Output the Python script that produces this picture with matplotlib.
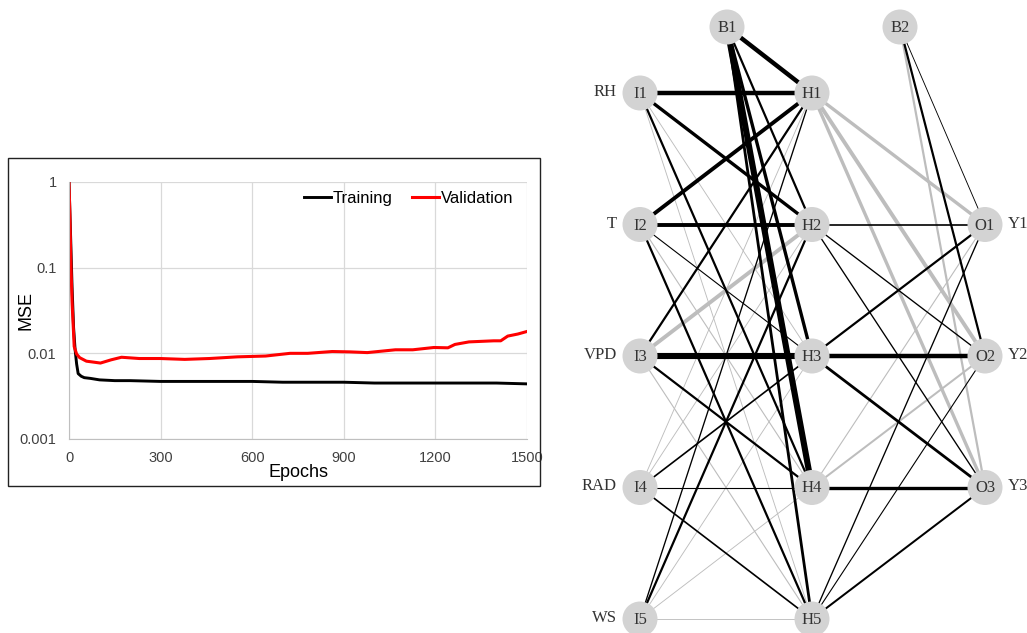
import matplotlib
matplotlib.use("Agg")
from matplotlib import pyplot as plt
from matplotlib.patches import Circle, Rectangle

# ---- training history ----
train_epochs = [0, 5, 10, 15, 20, 25, 30, 40, 50, 70, 100, 150, 200, 300, 400,
                500, 600, 700, 800, 900, 1000, 1100, 1200, 1300, 1400, 1500]
train_mse = [1.0, 0.25, 0.06, 0.02, 0.011, 0.0075, 0.0058, 0.0054, 0.0052, 0.0051,
             0.0049, 0.0048, 0.0048, 0.0047, 0.0047, 0.0047, 0.0047, 0.0046, 0.0046,
             0.0046, 0.0045, 0.0045, 0.0045, 0.0045, 0.0045, 0.0044]

val_epochs = [0, 3, 6, 10, 17, 25, 35, 57, 80, 103, 138, 172, 230, 299, 379, 460,
              552, 644, 724, 782, 862, 920, 977, 1069, 1126, 1195, 1241, 1264,
              1310, 1391, 1414, 1437, 1470, 1500]
val_mse = [1.0, 0.4, 0.12, 0.04, 0.012, 0.0098, 0.0089, 0.0081, 0.0079, 0.0077,
           0.0084, 0.009, 0.0087, 0.0087, 0.0085, 0.0087, 0.0091, 0.0093, 0.0100,
           0.0100, 0.0105, 0.0104, 0.0102, 0.0110, 0.0110, 0.0117, 0.0116, 0.0127,
           0.0136, 0.0140, 0.0140, 0.0159, 0.0168, 0.0180]

# ---- network (sign = colour, magnitude = line width) ----
input_names = ["I1", "I2", "I3", "I4", "I5"]
input_labels = ["RH", "T", "VPD", "RAD", "WS"]
hidden_names = ["H1", "H2", "H3", "H4", "H5"]
output_names = ["O1", "O2", "O3"]
output_labels = ["Y1", "Y2", "Y3"]

# rows: inputs I1..I5, columns: hidden H1..H5
w_input_hidden = [
    [4.0, 3.0, -0.8, 2.0, -0.8],
    [3.5, 3.5, 1.0, -1.0, 2.0],
    [2.0, -3.5, 5.5, 2.0, -1.0],
    [-0.8, -0.8, 1.5, 1.0, 1.5],
    [1.2, 2.0, -0.8, -0.8, -0.8],
]
w_bias1_hidden = [4.0, 2.0, 3.0, 5.5, 2.5]
# rows: hidden H1..H5, columns: outputs O1..O3
w_hidden_output = [
    [-3.0, -3.5, -3.0],
    [1.5, 1.2, 1.2],
    [2.0, 4.0, 2.5],
    [-1.0, -1.8, 3.0],
    [1.2, 1.0, 1.8],
]
w_bias2_output = [0.8, 2.0, -2.0]

fig = plt.figure(figsize=(10.27, 6.33), dpi=100)

# ---------------- left: MSE vs epochs ----------------
ax = fig.add_axes([69 / 1027, 1 - 439 / 633, 458 / 1027, 257 / 633])
ax.plot(train_epochs, train_mse, color="black", lw=2.1, label="Training")
ax.plot(val_epochs, val_mse, color="#ff0000", lw=2.2, label="Validation")
ax.set_yscale("log")
ax.set_xlim(0, 1500)
ax.set_ylim(0.001, 1)
ax.set_xticks([0, 300, 600, 900, 1200, 1500])
ax.set_yticks([0.001, 0.01, 0.1, 1])
ax.set_yticklabels(["0.001", "0.01", "0.1", "1"])
ax.minorticks_off()
ax.tick_params(length=0, labelsize=10.5, labelcolor="#404040")
ax.tick_params(axis="y", pad=9)
ax.tick_params(axis="x", pad=9)
for lab in ax.get_xticklabels() + ax.get_yticklabels():
    lab.set_family("Liberation Sans")
ax.grid(True, color="#d9d9d9", lw=0.9)
for s in ["top", "right"]:
    ax.spines[s].set_visible(False)
for s in ["left", "bottom"]:
    ax.spines[s].set_color("#bfbfbf")
ax.set_xlabel("Epochs", fontsize=13, family="Liberation Sans", va="center")
ax.set_ylabel("MSE", fontsize=13, family="Liberation Sans", va="center")
ax.xaxis.set_label_coords(0.5, -0.132)
ax.yaxis.set_label_coords(-0.094, 0.5)
ax.legend(loc="upper right", ncol=2, frameon=False, handlelength=1.6,
          handletextpad=0.1, columnspacing=1.2, borderaxespad=0.15,
          bbox_to_anchor=(0.99, 1.0),
          prop={"family": "Liberation Sans", "size": 12})
fig.add_artist(Rectangle((8 / 1027, 1 - 486 / 633), 532 / 1027, 328 / 633,
                         transform=fig.transFigure, fill=False,
                         edgecolor="#222222", lw=1.0))

# ---------------- right: network diagram ----------------
nx = fig.add_axes([560 / 1027, 0, 467 / 1027, 1])
nx.set_xlim(560, 1027)
nx.set_ylim(633, 0)
nx.axis("off")

x_in, x_b1, x_hid, x_b2, x_out = 640, 727, 812, 900, 985
y_top, y_step, y_bias = 93, 131.5, 27
pos = {}
for i, n in enumerate(input_names):
    pos[n] = (x_in, y_top + i * y_step)
for i, n in enumerate(hidden_names):
    pos[n] = (x_hid, y_top + i * y_step)
for i, n in enumerate(output_names):
    pos[n] = (x_out, y_top + (i + 1) * y_step)
pos["B1"] = (x_b1, y_bias)
pos["B2"] = (x_b2, y_bias)

def edge(a, b, w):
    (x0, y0), (x1, y1) = pos[a], pos[b]
    col = "black" if w > 0 else "#bdbdbd"
    nx.plot([x0, x1], [y0, y1], color=col, lw=abs(w) * 0.8,
            solid_capstyle="butt", zorder=2 if w > 0 else 1)

for i, a in enumerate(input_names):
    for j, b in enumerate(hidden_names):
        edge(a, b, w_input_hidden[i][j])
for j, b in enumerate(hidden_names):
    edge("B1", b, w_bias1_hidden[j])
for i, a in enumerate(hidden_names):
    for j, b in enumerate(output_names):
        edge(a, b, w_hidden_output[i][j])
for j, b in enumerate(output_names):
    edge("B2", b, w_bias2_output[j])

for n, (x, y) in pos.items():
    nx.add_patch(Circle((x, y), 17.5, color="#d3d3d3", zorder=5, lw=0))
    nx.text(x, y + 1, n, ha="center", va="center", fontsize=12,
            family="Liberation Serif", color="#333333", zorder=6)
for n, lab in zip(input_names, input_labels):
    nx.text(pos[n][0] - 23, pos[n][1] - 1, lab, ha="right", va="center",
            fontsize=12, family="Liberation Serif", color="#333333")
for n, lab in zip(output_names, output_labels):
    nx.text(pos[n][0] + 23, pos[n][1] - 1, lab, ha="left", va="center",
            fontsize=12, family="Liberation Serif", color="#333333")

fig.savefig("out.png", dpi=100)
